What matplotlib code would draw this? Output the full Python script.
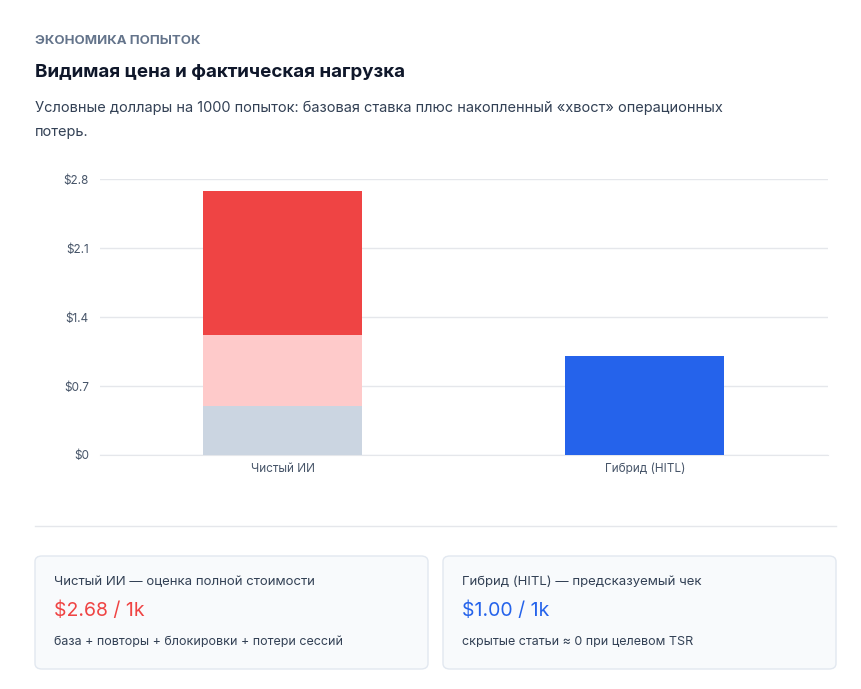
import matplotlib.pyplot as plt
from matplotlib.patches import FancyBboxPatch

plt.rcParams['font.family'] = ['Inter', 'DejaVu Sans']

categories = ['Чистый ИИ', 'Гибрид (HITL)']
base = [0.50, 1.00]
retries = [0.72, 0.0]
tail = [1.46, 0.0]
yticks = [0, 0.7, 1.4, 2.1, 2.8]
ytick_labels = ['$0', '$0.7', '$1.4', '$2.1', '$2.8']

W, H = 861, 689
fig = plt.figure(figsize=(W / 100, H / 100), dpi=100)
fig.patch.set_facecolor('white')

def fx(px):
    return px / W

def fy(py):
    return 1 - py / H

fig.text(fx(35), fy(41), 'ЭКОНОМИКА ПОПЫТОК', fontsize=9.5, color='#64748b',
         fontweight='bold', va='center')
fig.text(fx(35), fy(73), 'Видимая цена и фактическая нагрузка', fontsize=13.5,
         color='#0f172a', fontweight='bold', va='center')
fig.text(fx(35), fy(108), 'Условные доллары на 1000 попыток: базовая ставка плюс накопленный «хвост» операционных',
         fontsize=10.5, color='#334155', va='center')
fig.text(fx(35), fy(132), 'потерь.', fontsize=10.5, color='#334155', va='center')

ax = fig.add_axes([fx(100), fy(455), fx(828) - fx(100), (455 - 179) / H])
x = [0, 1]
colors_base = ['#cbd5e1', '#2563eb']
ax.bar(x, base, width=0.44, color=colors_base, zorder=3)
ax.bar(x[:1], retries[:1], bottom=base[:1], width=0.44, color='#fecaca', zorder=3)
ax.bar(x[:1], tail[:1], bottom=[base[0] + retries[0]], width=0.44, color='#ef4444', zorder=3)
ax.set_xlim(-0.505, 1.506)
ax.set_ylim(0, 2.8)
ax.set_yticks(yticks)
ax.set_yticklabels(ytick_labels)
ax.set_xticks(x)
ax.set_xticklabels(categories)
ax.grid(axis='y', color='#e5e7eb', linewidth=1, zorder=0)
for s in ['top', 'right', 'left']:
    ax.spines[s].set_visible(False)
ax.spines['bottom'].set_color('#e5e7eb')
ax.tick_params(axis='both', length=0, labelsize=8.5, colors='#475569')
ax.tick_params(axis='y', pad=8)
ax.tick_params(axis='x', pad=6)

# separator
fig.add_artist(plt.Line2D([fx(35), fx(836)], [fy(526), fy(526)], color='#e5e7eb', lw=1))

cards = [
    (35, 'Чистый ИИ — оценка полной стоимости', '$2.68 / 1k', '#ef4444',
     'база + повторы + блокировки + потери сессий'),
    (443, 'Гибрид (HITL) — предсказуемый чек', '$1.00 / 1k', '#2563eb',
     'скрытые статьи ≈ 0 при целевом TSR'),
]
for left, head, value, col, note in cards:
    box = FancyBboxPatch((fx(left), fy(669)), fx(393), (669 - 556) / H,
                         boxstyle='round,pad=0,rounding_size=0.008',
                         transform=fig.transFigure, facecolor='#f8fafc',
                         edgecolor='#e2e8f0', lw=1)
    fig.add_artist(box)
    fig.text(fx(left + 19), fy(582), head, fontsize=9.5, color='#334155', va='center')
    fig.text(fx(left + 19), fy(611), value, fontsize=14, color=col, va='center')
    fig.text(fx(left + 19), fy(642), note, fontsize=9, color='#334155', va='center')

fig.savefig('out.png', dpi=100, facecolor='white')
